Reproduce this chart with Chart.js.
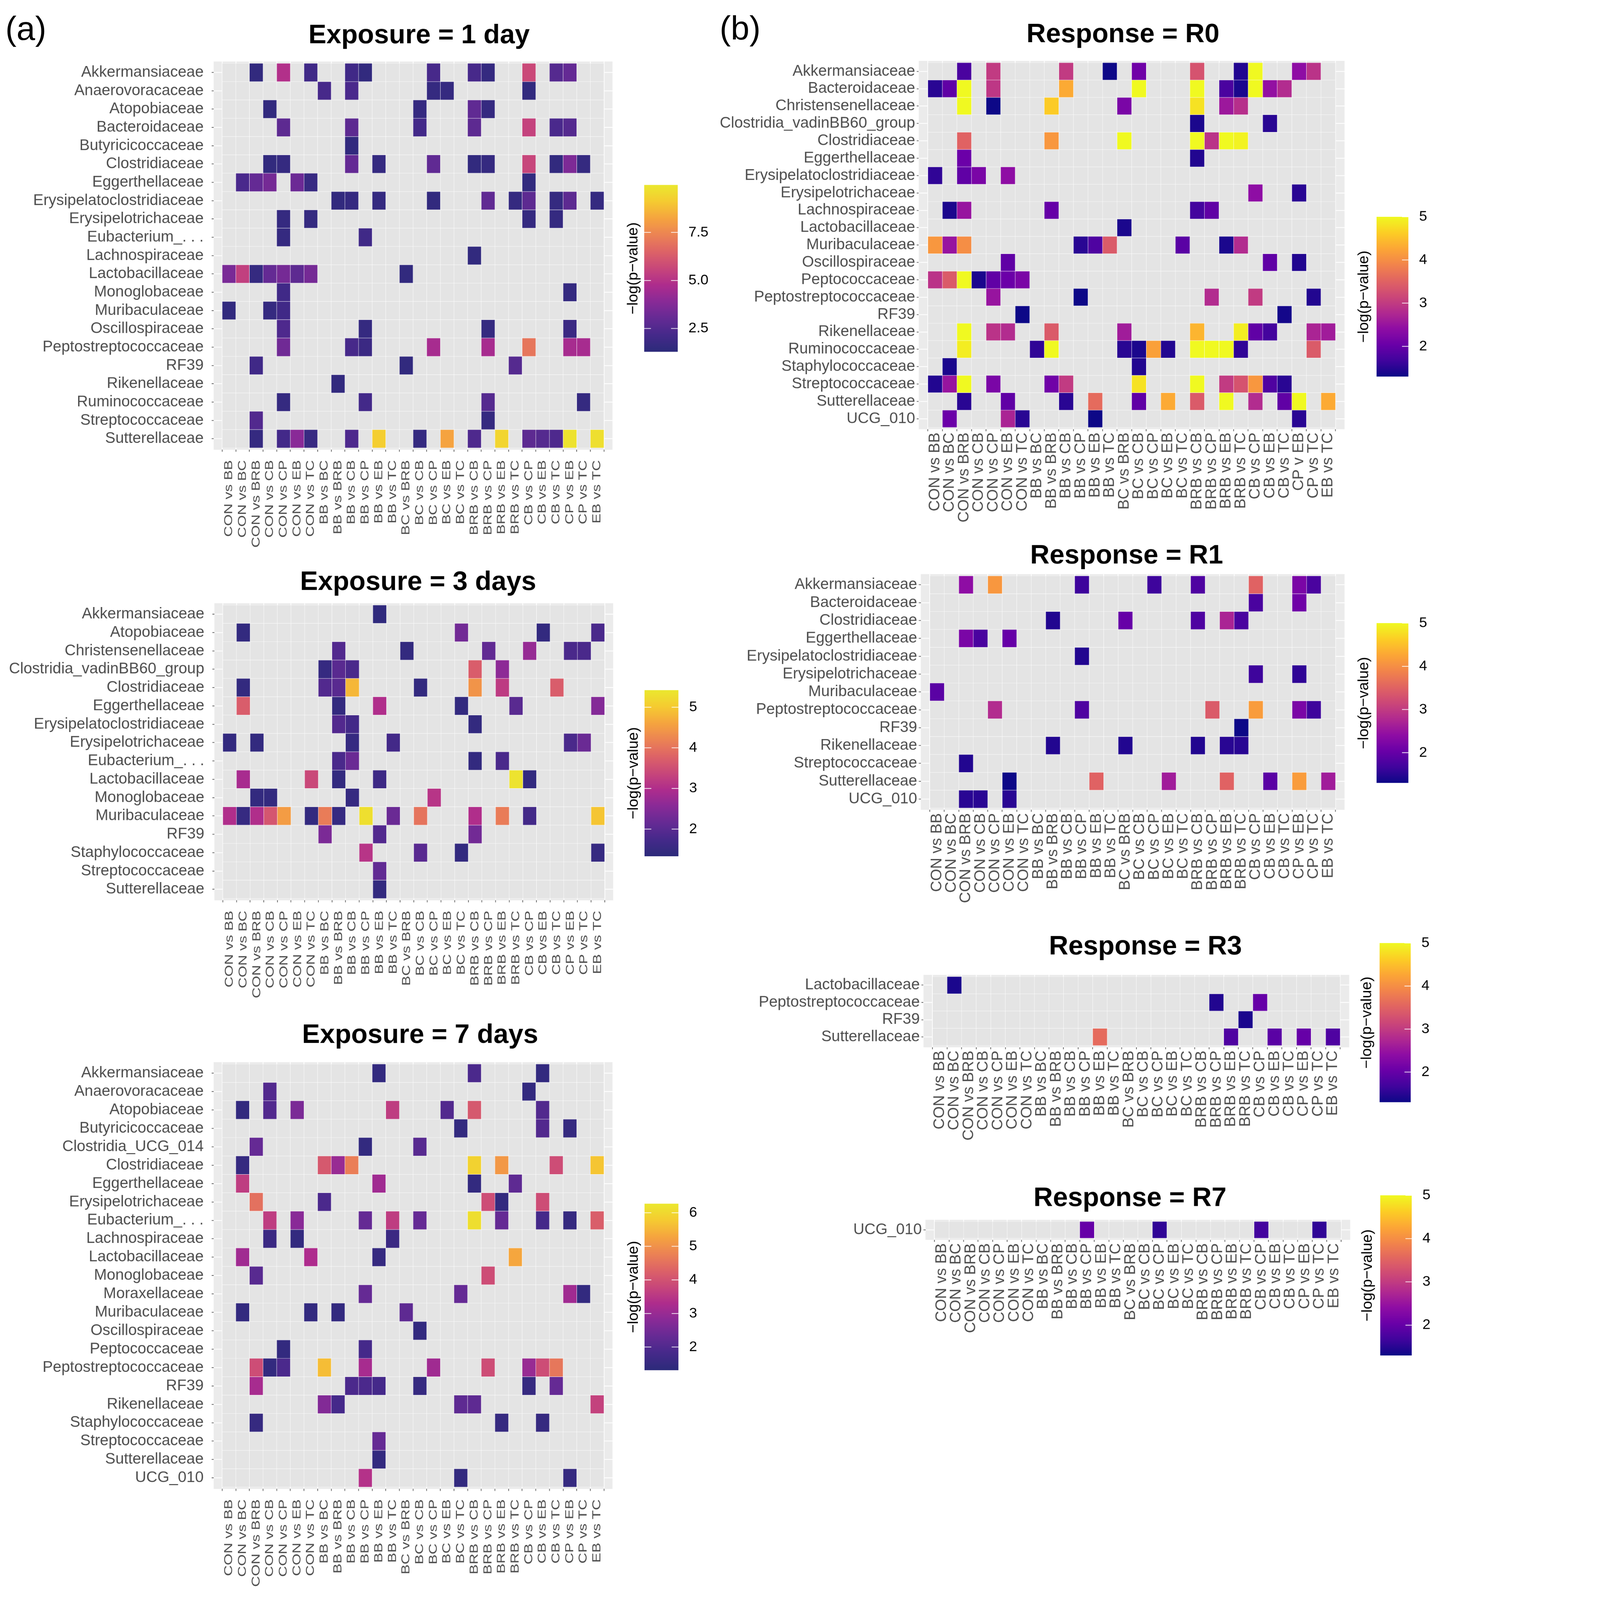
<!DOCTYPE html>
<html>
<head>
<meta charset="utf-8">
<script src="https://cdn.jsdelivr.net/npm/chart.js@4.4.1/dist/chart.umd.min.js"></script>
<style>
html,body{margin:0;padding:0;background:#fff;overflow:hidden;}
#wrap{position:absolute;left:0;top:0;width:4288px;height:4776px;overflow:hidden;transform-origin:0 0;background:#fff;}
canvas{position:absolute;}
.tag{position:absolute;font-size:100px;line-height:100px;color:#000;font-family:'Liberation Sans',Arial,Helvetica,sans-serif;}
</style>
</head>
<body>
<div id="wrap">
<div class="tag" style="left:16px;top:34px">(a)</div>
<div class="tag" style="left:2148px;top:33px">(b)</div>
</div>
<script>
// ---------------- DATA ----------------
const comparisons = ["CON vs BB","CON vs BC","CON vs BRB","CON vs CB","CON vs CP","CON vs EB","CON vs TC","BB vs BC","BB vs BRB","BB vs CB","BB vs CP","BB vs EB","BB vs TC","BC vs BRB","BC vs CB","BC vs CP","BC vs EB","BC vs TC","BRB vs CB","BRB vs CP","BRB vs EB","BRB vs TC","CB vs CP","CB vs EB","CB vs TC","CP vs EB","CP vs TC","EB vs TC"];
const comparisonsR0 = ["CON vs BB","CON vs BC","CON vs BRB","CON vs CB","CON vs CP","CON vs EB","CON vs TC","BB vs BC","BB vs BRB","BB vs CB","BB vs CP","BB vs EB","BB vs TC","BC vs BRB","BC vs CB","BC vs CP","BC vs EB","BC vs TC","BRB vs CB","BRB vs CP","BRB vs EB","BRB vs TC","CB vs CP","CB vs EB","CB vs TC","CP v EB","CP vs TC","EB vs TC"];

const day1Families = ["Akkermansiaceae","Anaerovoracaceae","Atopobiaceae","Bacteroidaceae","Butyricicoccaceae","Clostridiaceae","Eggerthellaceae","Erysipelatoclostridiaceae","Erysipelotrichaceae","Eubacterium_. . .","Lachnospiraceae","Lactobacillaceae","Monoglobaceae","Muribaculaceae","Oscillospiraceae","Peptostreptococcaceae","RF39","Rikenellaceae","Ruminococcaceae","Streptococcaceae","Sutterellaceae"];
const day3Families = ["Akkermansiaceae","Atopobiaceae","Christensenellaceae","Clostridia_vadinBB60_group","Clostridiaceae","Eggerthellaceae","Erysipelatoclostridiaceae","Erysipelotrichaceae","Eubacterium_. . .","Lactobacillaceae","Monoglobaceae","Muribaculaceae","RF39","Staphylococcaceae","Streptococcaceae","Sutterellaceae"];
const day7Families = ["Akkermansiaceae","Anaerovoracaceae","Atopobiaceae","Butyricicoccaceae","Clostridia_UCG_014","Clostridiaceae","Eggerthellaceae","Erysipelotrichaceae","Eubacterium_. . .","Lachnospiraceae","Lactobacillaceae","Monoglobaceae","Moraxellaceae","Muribaculaceae","Oscillospiraceae","Peptococcaceae","Peptostreptococcaceae","RF39","Rikenellaceae","Staphylococcaceae","Streptococcaceae","Sutterellaceae","UCG_010"];
const r0Families = ["Akkermansiaceae","Bacteroidaceae","Christensenellaceae","Clostridia_vadinBB60_group","Clostridiaceae","Eggerthellaceae","Erysipelatoclostridiaceae","Erysipelotrichaceae","Lachnospiraceae","Lactobacillaceae","Muribaculaceae","Oscillospiraceae","Peptococcaceae","Peptostreptococcaceae","RF39","Rikenellaceae","Ruminococcaceae","Staphylococcaceae","Streptococcaceae","Sutterellaceae","UCG_010"];
const r1Families = ["Akkermansiaceae","Bacteroidaceae","Clostridiaceae","Eggerthellaceae","Erysipelatoclostridiaceae","Erysipelotrichaceae","Muribaculaceae","Peptostreptococcaceae","RF39","Rikenellaceae","Streptococcaceae","Sutterellaceae","UCG_010"];
const r3Families = ["Lactobacillaceae","Peptostreptococcaceae","RF39","Sutterellaceae"];
const r7Families = ["UCG_010"];

// cells: [rowIndex, comparisonIndex, -log(p-value)]
const day1Cells = [
[0,2,1.5],[0,4,4.9],[0,6,2.0],[0,9,2.0],[0,10,1.5],[0,15,2.2],[0,18,2.2],[0,19,1.6],[0,22,5.7],[0,24,2.6],[0,25,3.0],
[1,7,2.2],[1,9,2.3],[1,15,1.6],[1,16,1.6],[1,22,1.5],
[2,3,1.5],[2,14,1.6],[2,18,2.9],[2,19,1.6],
[3,4,2.8],[3,9,2.8],[3,14,2.1],[3,18,2.8],[3,22,5.5],[3,24,2.3],[3,25,2.6],
[4,9,1.5],
[5,3,1.5],[5,4,1.6],[5,9,3.0],[5,11,1.6],[5,15,2.9],[5,18,1.5],[5,19,1.6],[5,22,5.6],[5,24,1.5],[5,25,3.6],[5,26,1.6],
[6,1,2.3],[6,2,3.0],[6,3,3.4],[6,5,3.2],[6,6,1.7],[6,22,1.5],
[7,8,1.5],[7,9,1.6],[7,11,1.6],[7,15,1.5],[7,19,2.9],[7,21,1.6],[7,22,2.8],[7,24,1.6],[7,25,2.8],[7,27,1.6],
[8,4,1.6],[8,6,1.6],[8,22,1.6],[8,24,1.6],
[9,4,1.6],[9,10,2.0],
[10,18,1.5],
[11,0,3.5],[11,1,5.4],[11,2,1.6],[11,3,3.0],[11,4,3.4],[11,5,2.8],[11,6,3.4],[11,13,1.5],
[12,4,2.0],[12,25,1.6],
[13,0,1.5],[13,3,1.6],[13,4,2.0],
[14,4,2.4],[14,10,1.6],[14,19,1.6],[14,25,1.8],
[15,4,3.3],[15,9,2.2],[15,10,1.8],[15,15,4.6],[15,19,4.6],[15,22,7.0],[15,25,4.6],[15,26,4.6],
[16,2,2.0],[16,13,1.5],[16,21,2.6],
[17,8,1.5],
[18,4,1.6],[18,10,2.1],[18,19,2.6],[18,26,1.6],
[19,2,2.5],[19,19,1.6],
[20,2,1.6],[20,4,2.1],[20,5,3.9],[20,6,1.7],[20,9,2.4],[20,11,9.2],[20,14,1.6],[20,16,8.2],[20,18,2.4],[20,20,9.4],[20,22,2.8],[20,23,2.6],[20,24,2.4],[20,25,9.8],[20,27,9.7]
];
const day3Cells = [
[0,11,1.4],
[1,1,1.45],[1,17,2.3],[1,23,1.45],[1,27,1.8],
[2,8,1.9],[2,13,1.45],[2,19,2.1],[2,22,2.7],[2,25,1.8],[2,26,1.8],
[3,7,1.5],[3,8,2.0],[3,9,1.8],[3,18,3.7],[3,20,2.6],
[4,1,1.45],[4,7,1.9],[4,8,2.0],[4,9,4.8],[4,14,1.45],[4,18,4.4],[4,20,3.2],[4,24,3.7],
[5,1,3.7],[5,8,1.45],[5,11,3.0],[5,17,1.45],[5,21,2.0],[5,27,2.5],
[6,8,1.9],[6,9,1.7],[6,18,1.45],
[7,0,1.45],[7,2,1.45],[7,9,1.5],[7,12,1.7],[7,25,1.8],[7,26,2.2],
[8,8,1.8],[8,9,2.2],[8,18,1.45],[8,20,1.8],
[9,1,2.9],[9,6,3.4],[9,8,1.45],[9,11,1.6],[9,21,5.35],[9,22,1.45],
[10,2,1.45],[10,3,1.45],[10,9,1.5],[10,15,3.1],
[11,0,3.0],[11,1,1.5],[11,2,3.0],[11,3,3.6],[11,4,4.5],[11,6,1.45],[11,7,4.1],[11,8,1.5],[11,10,5.3],[11,12,2.2],[11,14,4.0],[11,18,3.0],[11,20,4.1],[11,22,1.7],[11,27,4.95],
[12,7,2.4],[12,11,1.9],[12,18,2.3],
[13,10,3.1],[13,14,2.0],[13,17,1.45],[13,27,1.5],
[14,11,2.1],
[15,11,1.45]
];
const day7Cells = [
[0,11,1.45],[0,18,1.9],[0,23,1.45],
[1,3,2.0],[1,22,1.45],
[2,1,1.45],[2,3,2.0],[2,5,2.6],[2,12,3.6],[2,16,2.0],[2,18,4.1],[2,23,2.0],
[3,17,1.45],[3,23,2.0],[3,25,1.5],
[4,2,2.3],[4,10,1.45],[4,14,2.1],
[5,1,1.5],[5,7,4.1],[5,8,3.0],[5,9,4.7],[5,18,5.9],[5,20,5.1],[5,24,3.9],[5,27,5.7],
[6,1,3.6],[6,11,3.1],[6,18,1.45],[6,21,2.2],
[7,2,4.5],[7,7,1.9],[7,19,3.9],[7,20,1.45],[7,23,3.9],
[8,3,3.6],[8,5,2.8],[8,10,2.3],[8,12,3.6],[8,14,2.3],[8,18,6.1],[8,20,2.3],[8,23,1.8],[8,25,1.5],[8,27,4.2],
[9,3,1.6],[9,5,1.45],[9,12,1.6],
[10,1,3.1],[10,6,3.3],[10,11,1.5],[10,21,5.3],
[11,2,2.1],[11,19,3.9],
[12,10,2.3],[12,17,2.3],[12,25,3.1],[12,26,1.45],
[13,1,1.45],[13,6,1.45],[13,8,1.45],[13,13,2.2],
[14,14,1.45],
[15,4,1.45],[15,10,1.8],
[16,2,3.9],[16,3,1.45],[16,4,1.9],[16,7,5.6],[16,10,3.2],[16,15,3.1],[16,19,3.9],[16,22,3.0],[16,23,3.9],[16,24,4.6],
[17,2,3.2],[17,9,1.9],[17,10,1.9],[17,11,1.8],[17,14,1.5],[17,22,1.5],[17,24,2.3],
[18,7,2.7],[18,8,1.8],[18,17,2.2],[18,18,2.2],[18,27,3.7],
[19,2,1.5],[19,20,1.5],[19,23,1.5],
[20,11,2.3],
[21,11,1.45],
[22,10,3.4],[22,17,1.45],[22,25,1.5]
];
const r0Cells = [
[0,2,1.75],[0,4,3.0],[0,9,3.0],[0,12,1.3],[0,14,2.1],[0,18,3.3],[0,21,1.45],[0,22,5.0],[0,25,2.4],[0,26,2.9],
[1,0,1.5],[1,1,1.95],[1,2,5.0],[1,4,2.95],[1,9,4.3],[1,14,5.0],[1,18,5.0],[1,20,1.75],[1,21,1.4],[1,22,5.0],[1,23,2.45],[1,24,2.8],
[2,2,5.0],[2,4,1.3],[2,8,4.6],[2,13,2.2],[2,18,4.8],[2,20,2.55],[2,21,2.85],
[3,18,1.4],[3,23,1.5],
[4,2,3.5],[4,8,4.1],[4,13,5.0],[4,18,5.0],[4,19,2.9],[4,20,5.0],[4,21,4.95],
[5,2,2.05],[5,18,1.45],
[6,0,1.55],[6,2,1.95],[6,3,2.2],[6,5,2.4],
[7,22,2.4],[7,25,1.5],
[8,1,1.4],[8,2,2.5],[8,8,2.0],[8,18,1.7],[8,19,1.95],
[9,13,1.4],
[10,0,4.1],[10,1,2.5],[10,2,4.0],[10,10,1.5],[10,11,1.8],[10,12,3.4],[10,17,1.9],[10,20,1.4],[10,21,2.8],
[11,5,1.95],[11,23,1.95],[11,25,1.45],
[12,0,2.9],[12,1,3.4],[12,2,5.0],[12,3,1.4],[12,4,1.95],[12,5,2.05],[12,6,2.2],
[13,4,2.5],[13,10,1.3],[13,19,2.8],[13,22,3.0],[13,26,1.45],
[14,6,1.3],[14,24,1.35],
[15,2,5.0],[15,4,2.9],[15,5,2.8],[15,8,3.4],[15,13,2.6],[15,18,4.4],[15,21,4.9],[15,22,1.95],[15,23,1.7],[15,26,2.7],[15,27,2.6],
[16,2,4.9],[16,7,1.55],[16,8,5.0],[16,13,1.5],[16,14,1.4],[16,15,4.2],[16,16,1.45],[16,18,5.0],[16,19,5.0],[16,20,5.0],[16,21,1.55],[16,26,3.4],
[17,1,1.4],[17,14,1.45],
[18,0,1.45],[18,1,2.5],[18,2,5.0],[18,4,2.2],[18,8,2.1],[18,9,3.0],[18,14,4.8],[18,18,5.0],[18,20,3.0],[18,21,3.3],[18,22,4.1],[18,23,1.8],[18,24,1.5],
[19,2,1.5],[19,5,1.95],[19,9,1.5],[19,11,3.6],[19,14,1.95],[19,16,4.3],[19,18,3.4],[19,20,5.0],[19,22,2.8],[19,24,1.95],[19,25,5.0],[19,27,4.3],
[20,1,2.05],[20,5,2.7],[20,6,1.5],[20,11,1.3],[20,25,1.5]
];
const r1Cells = [
[0,2,2.4],[0,4,4.1],[0,10,1.65],[0,15,1.65],[0,18,1.8],[0,22,3.5],[0,25,2.2],[0,26,1.75],
[1,22,1.75],[1,25,2.1],
[2,8,1.45],[2,13,2.0],[2,18,1.8],[2,20,2.7],[2,21,1.75],
[3,2,2.2],[3,3,1.75],[3,5,2.0],
[4,10,1.45],
[5,22,1.65],[5,25,1.55],
[6,0,1.9],
[7,4,2.8],[7,10,1.8],[7,19,3.4],[7,22,4.15],[7,25,2.2],[7,26,1.65],
[8,21,1.3],
[9,8,1.45],[9,13,1.45],[9,18,1.45],[9,20,1.5],[9,21,1.5],
[10,2,1.45],
[11,5,1.3],[11,11,3.5],[11,16,2.6],[11,20,3.5],[11,23,1.9],[11,25,4.15],[11,27,2.6],
[12,2,1.5],[12,3,1.5],[12,5,1.5]
];
const r3Cells = [
[0,1,1.4],
[1,19,1.45],[1,22,2.0],
[2,21,1.4],
[3,11,3.6],[3,20,1.8],[3,23,1.9],[3,25,2.0],[3,27,1.8]
];
const r7Cells = [
[0,10,2.0],[0,15,1.55],[0,22,1.7],[0,26,1.55]
];

// colour-bar limits and breaks
const day1Limits = [1.29, 9.97], day1Breaks = [2.5, 5.0, 7.5], day1BreakLabels = ["2.5","5.0","7.5"];
const day3Limits = [1.33, 5.42], day3Breaks = [2, 3, 4, 5], day3BreakLabels = ["2","3","4","5"];
const day7Limits = [1.31, 6.27], day7Breaks = [2, 3, 4, 5, 6], day7BreakLabels = ["2","3","4","5","6"];
const rLimits = [1.3, 5.0], rBreaks = [2, 3, 4, 5], rBreakLabels = ["2","3","4","5"];

// ---------------- STYLE ----------------
const PLASMA = ['#0d0887','#41049d','#6a00a8','#8f0da4','#b12a90','#cc4778','#e16462','#f2844b','#fca636','#fcce25','#f0f921'];
const PLASMA_MUTED = ['#2c2a7a','#45298a','#652a94','#892a97','#ae2c8d','#c8477a','#dd6367','#ec8354','#f5a43f','#f5cb31','#ebe82e'];
const FONT = "'Liberation Sans', Arial, Helvetica, sans-serif";
Chart.defaults.font.family = FONT;

const wrap = document.getElementById('wrap');
const fitScale = Math.min(window.innerWidth / 4288, window.innerHeight / 4776);
if (fitScale > 0 && Math.abs(fitScale - 1) > 0.002) wrap.style.transform = 'scale(' + fitScale + ')';

function hexToRgb(h){ const n = parseInt(h.slice(1),16); return [(n>>16)&255,(n>>8)&255,n&255]; }
function colorAt(stops, t){
  t = Math.max(0, Math.min(1, t));
  const s = t*(stops.length-1);
  const i = Math.min(Math.floor(s), stops.length-2);
  const f = s - i;
  const a = hexToRgb(stops[i]), b = hexToRgb(stops[i+1]);
  return 'rgb(' + a.map((v,k)=>Math.round(v+(b[k]-v)*f)).join(',') + ')';
}

const TICK_LEN = 6;

function buildPanel(p){
  const n = p.rows.length, m = p.cols.length;
  const cw = (p.tx1 - p.tx0)/m, rh = (p.ty1 - p.ty0)/n;
  const px0 = p.tx0 - 0.1*cw, px1 = p.tx1 + 0.1*cw;
  const py0 = p.ty0 - 0.1*rh, py1 = p.ty1 + 0.1*rh;
  const L = Math.round(px0 - 640);
  const T = Math.round(p.titleCY - 48);
  const R = Math.round(2*p.titleCX - L);
  const B = Math.round(Math.max(py1 + 340, p.barY1 + 30));
  const W = R - L, H = B - T;
  const canvas = document.createElement('canvas');
  canvas.width = W; canvas.height = H;
  canvas.style.left = L + 'px'; canvas.style.top = T + 'px';
  canvas.style.width = W + 'px'; canvas.style.height = H + 'px';
  wrap.appendChild(canvas);

  const lookup = {};
  p.cells.forEach(([r,c,v]) => { lookup[r + '_' + c] = v; });
  const datasets = p.rows.map((name, r) => ({
    label: name,
    data: p.cols.map((_, c) => ({x: c, y: [r - 0.5, r + 0.5]})),
    backgroundColor: p.cols.map((_, c) => {
      const v = lookup[r + '_' + c];
      return v === undefined ? '#e4e4e4' : colorAt(p.palette, (v - p.limits[0])/(p.limits[1] - p.limits[0]));
    }),
    borderColor: '#ffffff',
    borderWidth: 0.8,
    borderSkipped: false,
    grouped: false,
    barPercentage: 1,
    categoryPercentage: 1
  }));

  const helper = {
    id: 'bgbar',
    beforeDraw(chart){
      // stretch the rotated x labels along their own direction (as in the source figure)
      const sx = chart.scales.x;
      if (sx && p.xStretch !== 1 && !sx._stretchPatched) {
        const orig = sx.drawLabels;
        sx.drawLabels = function(area){
          const c = this.ctx;
          const y0 = this.top + TICK_LEN + p.gapX;
          c.save();
          c.translate(0, y0); c.scale(1, p.xStretch); c.translate(0, -y0);
          orig.call(this, area);
          c.restore();
        };
        sx._stretchPatched = true;
      }
      const a = chart.chartArea, ctx = chart.ctx;
      ctx.save(); ctx.fillStyle = '#ebebeb';
      ctx.fillRect(a.left, a.top, a.right - a.left, a.bottom - a.top);
      ctx.restore();
    },
    afterDraw(chart){
      const ctx = chart.ctx;
      const x0 = p.barX0 - L, x1 = p.barX1 - L, y0 = p.barY0 - T, y1 = p.barY1 - T;
      const g = ctx.createLinearGradient(0, y1, 0, y0);
      for (let i = 0; i <= 40; i++) g.addColorStop(i/40, colorAt(p.palette, i/40));
      ctx.save();
      ctx.fillStyle = g;
      ctx.fillRect(x0, y0, x1 - x0, y1 - y0);
      const w = x1 - x0;
      ctx.strokeStyle = '#ffffff'; ctx.lineWidth = 2;
      ctx.fillStyle = '#000000';
      ctx.font = '43px ' + FONT;
      ctx.textBaseline = 'middle'; ctx.textAlign = 'left';
      p.breaks.forEach((b, i) => {
        const y = y1 - (b - p.limits[0])/(p.limits[1] - p.limits[0])*(y1 - y0);
        ctx.beginPath();
        if (p.tickBoth) { ctx.moveTo(x0, y); ctx.lineTo(x0 + 0.2*w, y); }
        ctx.moveTo(x1 - 0.2*w, y); ctx.lineTo(x1, y);
        ctx.stroke();
        ctx.fillText(p.breakLabels[i], x1 + 32, y);
      });
      ctx.translate(x0 - p.legOff, (y0 + y1)/2);
      ctx.rotate(-Math.PI/2);
      ctx.textAlign = 'center';
      ctx.font = '45px ' + FONT;
      ctx.fillText('\u2212log(p\u2212value)', 0, 0);
      ctx.restore();
    }
  };

  new Chart(canvas, {
    type: 'bar',
    data: { datasets },
    plugins: [helper],
    options: {
      responsive: false,
      animation: false,
      events: [],
      layout: { padding: 0 },
      plugins: {
        legend: { display: false },
        tooltip: { enabled: false },
        title: {
          display: true, text: p.title, color: '#000000',
          font: { size: 80, weight: 'bold', family: FONT, lineHeight: 1.2 },
          padding: { top: 0, bottom: py0 - T - 96 }
        }
      },
      scales: {
        x: {
          type: 'linear', position: 'bottom', min: -0.6, max: m - 0.4,
          afterBuildTicks: s => { s.ticks = p.cols.map((_, i) => ({value: i})); },
          afterFit: s => { s.height = B - py1; },
          ticks: {
            autoSkip: false, minRotation: 90, maxRotation: 90, color: '#4d4d4d',
            font: { size: p.xFont, family: FONT }, padding: p.gapX,
            callback: v => p.cols[v]
          },
          grid: { color: '#ffffff', lineWidth: 2.5, drawTicks: true, tickLength: TICK_LEN, tickColor: '#555555', tickWidth: 2 },
          border: { display: false }
        },
        y: {
          type: 'linear', position: 'left', reverse: true, min: -0.6, max: n - 0.4,
          afterBuildTicks: s => { s.ticks = p.rows.map((_, i) => ({value: i})); },
          afterFit: s => { s.width = px0 - L; },
          ticks: {
            autoSkip: false, color: '#4d4d4d', font: { size: 46, family: FONT }, padding: p.gapY,
            callback: v => p.rows[v]
          },
          grid: { color: '#ffffff', lineWidth: 2.5, drawTicks: true, tickLength: TICK_LEN, tickColor: '#555555', tickWidth: 2 },
          border: { display: false }
        },
        yR: {
          type: 'linear', position: 'right', display: true,
          afterFit: s => { s.width = R - px1; },
          ticks: { display: false }, grid: { display: false }, border: { display: false }
        }
      }
    }
  });
}

const A_STYLE = { palette: PLASMA_MUTED, gapY: 24, gapX: 25, xFont: 35, xStretch: 1.28, tickBoth: true, legOff: 32 };
const B_STYLE = { palette: PLASMA, gapY: 5, gapX: 4, xFont: 46, xStretch: 1, tickBoth: false, legOff: 37 };

const panels = [
  Object.assign({ title: 'Exposure = 1 day', rows: day1Families, cols: comparisons, cells: day1Cells, limits: day1Limits, breaks: day1Breaks, breakLabels: day1BreakLabels,
    tx0: 642, tx1: 1824, ty0: 189, ty1: 1337, titleCX: 1251, titleCY: 107, barX0: 1923, barX1: 2023, barY0: 552, barY1: 1050 }, A_STYLE),
  Object.assign({ title: 'Exposure = 3 days', rows: day3Families, cols: comparisons, cells: day3Cells, limits: day3Limits, breaks: day3Breaks, breakLabels: day3BreakLabels,
    tx0: 644, tx1: 1826, ty0: 1806, ty1: 2682, titleCX: 1248, titleCY: 1739, barX0: 1924, barX1: 2025, barY0: 2060, barY1: 2556 }, A_STYLE),
  Object.assign({ title: 'Exposure = 7 days', rows: day7Families, cols: comparisons, cells: day7Cells, limits: day7Limits, breaks: day7Breaks, breakLabels: day7BreakLabels,
    tx0: 642, tx1: 1824, ty0: 3176, ty1: 4439, titleCX: 1254, titleCY: 3091, barX0: 1924, barX1: 2025, barY0: 3593, barY1: 4090 }, A_STYLE),
  Object.assign({ title: 'Response = R0', rows: r0Families, cols: comparisonsR0, cells: r0Cells, limits: rLimits, breaks: rBreaks, breakLabels: rBreakLabels,
    tx0: 2747, tx1: 4009, ty0: 187, ty1: 1276, titleCX: 3352, titleCY: 104, barX0: 4109, barX1: 4204, barY0: 647, barY1: 1124 }, B_STYLE),
  Object.assign({ title: 'Response = R1', rows: r1Families, cols: comparisons, cells: r1Cells, limits: rLimits, breaks: rBreaks, breakLabels: rBreakLabels,
    tx0: 2753, tx1: 4009, ty0: 1719, ty1: 2412, titleCX: 3363, titleCY: 1660, barX0: 4109, barX1: 4204, barY0: 1860, barY1: 2337 }, B_STYLE),
  Object.assign({ title: 'Response = R3', rows: r3Families, cols: comparisons, cells: r3Cells, limits: rLimits, breaks: rBreaks, breakLabels: rBreakLabels,
    tx0: 2761, tx1: 4023, ty0: 2915, ty1: 3121, titleCX: 3419, titleCY: 2827, barX0: 4118, barX1: 4211, barY0: 2815, barY1: 3290 }, B_STYLE),
  Object.assign({ title: 'Response = R7', rows: r7Families, cols: comparisons, cells: r7Cells, limits: rLimits, breaks: rBreaks, breakLabels: rBreakLabels,
    tx0: 2767, tx1: 4026, ty0: 3646, ty1: 3696, titleCX: 3373, titleCY: 3578, barX0: 4120, barX1: 4214, barY0: 3568, barY1: 4046 }, B_STYLE)
];
panels.forEach(buildPanel);
</script>
</body>
</html>
